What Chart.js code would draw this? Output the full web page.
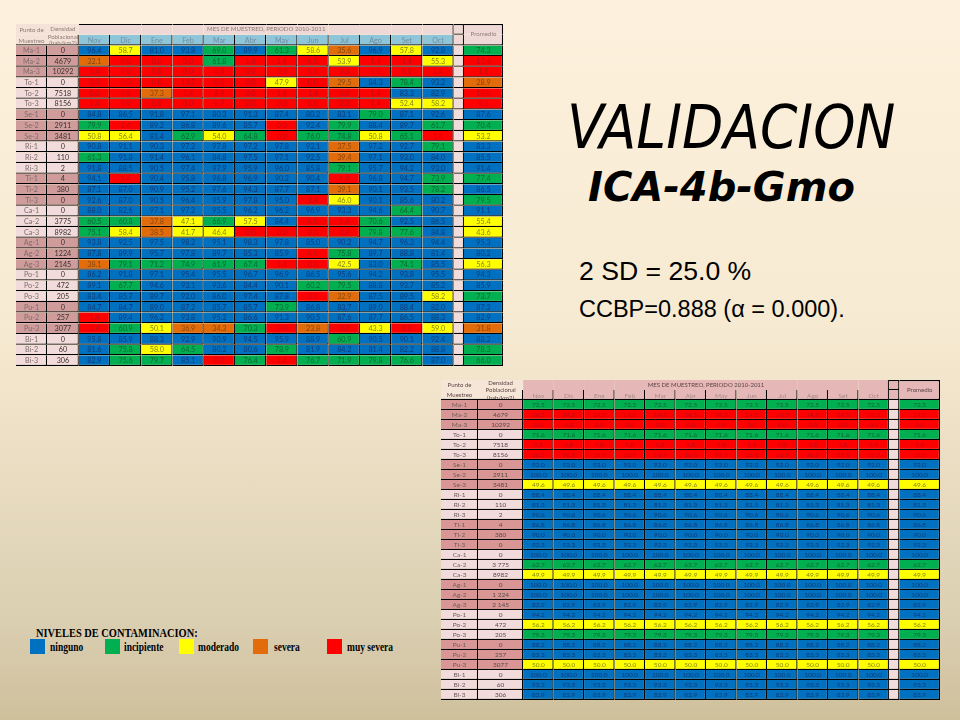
<!DOCTYPE html>
<html lang="es">
<head>
<meta charset="utf-8">
<title>VALIDACION ICA-4b-Gmo</title>
<script src="https://cdn.jsdelivr.net/npm/chart.js@4/dist/chart.umd.min.js"></script>
<style>
  html, body { margin: 0; padding: 0; }
  body {
    width: 960px; height: 720px; overflow: hidden; position: relative;
    background: linear-gradient(#fdf1dd 0%, #f7ead2 45%, #dbcfb2 86%, #cfc09c 100%);
  }
  canvas { position: absolute; filter: blur(0.3px); }
  .txt { position: absolute; white-space: nowrap; color: #000; line-height: 1; transform-origin: left center; }
  #t1 { left: 567px; top: 93px; font: italic 59.6px "DejaVu Sans Condensed", "DejaVu Sans"; font-stretch: condensed; }
  #t2 { left: 588px; top: 164px; font: italic bold 40px "DejaVu Sans"; }
  #t3 { left: 579px; top: 256px; font: 26.6px "Liberation Sans"; }
  #t4 { left: 579px; top: 296px; font: 23.5px "Liberation Sans"; }
  #leyTitulo { left: 36px; top: 625px; font: bold 13px "Liberation Serif"; transform: scaleX(0.8); }
  .sw { position: absolute; top: 639px; width: 15px; height: 15px; }
  .ley { top: 640px; font: bold 12px "Liberation Serif"; transform: scaleX(0.79); }
</style>
</head>
<body>
<canvas id="tabla1"></canvas>
<canvas id="tabla2"></canvas>
<div class="txt" id="t1">VALIDACION</div>
<div class="txt" id="t2">ICA-4b-Gmo</div>
<div class="txt" id="t3">2 SD = 25.0 %</div>
<div class="txt" id="t4">CCBP=0.888 (α = 0.000).</div>
<div class="txt" id="leyTitulo">NIVELES DE CONTAMINACION:</div>
<div id="leyenda"></div>

<script>
// Datos
const puntos = ['Ma-1','Ma-2','Ma-3','To-1','To-2','To-3','Se-1','Se-2','Se-3','Ri-1','Ri-2','Ri-3','Ti-1','Ti-2','Ti-3',
  'Ca-1','Ca-2','Ca-3','Ag-1','Ag-2','Ag-3','Po-1','Po-2','Po-3','Pu-1','Pu-2','Pu-3','Bi-1','Bi-2','Bi-3'];
const densidad1 = ['0','4679','10292','0','7518','8156','0','2911','3481','0','110','2','4','380','0',
  '0','3775','8982','0','1224','2145','0','472','205','0','257','3077','0','60','306'];
const densidad2 = ['0','4679','10292','0','7518','8156','0','2911','3481','0','110','2','4','380','0',
  '0','3 775','8982','0','1 224','2 145','0','472','205','0','257','3077','0','60','306'];
const meses = ['Nov','Dic','Ene','Feb','Mar','Abr','May','Jun','Jul','Ago','Set','Oct'];

const muestreo = [
  [96.4,58.7,81.0,93.8,69.0,89.9,61.3,58.6,35.6,96.9,57.8,92.8],
  [32.1,0.0,0.0,0.0,61.8,1.4,1.4,0.0,53.9,1.4,1.4,55.3],
  [1.4,0.0,0.0,0.0,4.8,0.0,0.0,0.0,0.0,0.0,0.0,1.4],
  [0.0,0.0,0.0,13.7,0.0,0.0,47.9,0.0,29.5,84.3,78.4,93.2],
  [0.0,0.0,37.3,1.4,6.9,0.0,1.4,1.4,0.0,1.4,83.3,82.9],
  [1.4,0.0,0.0,0.0,0.7,0.0,0.0,0.0,0.0,1.4,52.4,58.2],
  [84.8,86.5,91.8,97.1,80.3,91.3,87.4,80.2,83.1,79.0,87.1,92.6],
  [79.9,1.4,89.2,86.8,89.6,85.7,0.0,92.4,79.9,88.4,89.7,61.7],
  [50.8,56.4,81.4,62.9,54.0,64.8,0.0,76.0,74.8,50.8,65.1,1.4],
  [90.8,91.1,90.3,97.2,97.8,97.2,97.8,92.1,37.5,97.2,92.7,79.1],
  [61.3,91.8,91.4,96.1,84.8,97.5,97.1,92.5,39.4,97.1,93.0,84.0],
  [91.8,88.5,90.5,97.4,97.9,95.9,96.0,85.8,79.1,95.7,94.2,93.0],
  [94.1,1.4,90.4,95.8,96.8,96.9,90.2,90.4,1.4,96.8,94.7,73.9],
  [87.1,87.0,90.9,95.2,97.6,94.3,87.7,87.1,39.1,90.1,93.5,78.2],
  [92.6,87.0,90.5,96.4,95.9,97.8,95.0,1.4,46.0,90.1,85.6,80.2],
  [88.0,82.6,97.1,97.2,95.5,96.2,96.2,96.9,93.3,94.6,64.4,90.7],
  [60.5,60.8,37.8,47.1,66.9,57.5,84.4,0.0,1.4,70.6,92.5,86.5],
  [75.1,58.4,38.5,41.7,46.4,0.0,0.0,0.0,0.0,79.8,77.6,84.8],
  [93.8,92.5,97.5,98.2,95.1,98.3,97.8,85.0,90.2,94.7,96.3,94.4],
  [87.8,89.9,95.7,97.8,89.7,85.3,85.9,0.0,75.8,89.7,88.8,81.4],
  [38.1,79.1,71.2,74.9,61.9,67.4,1.4,0.0,42.5,83.0,74.1,85.5],
  [86.2,91.8,97.1,95.4,95.5,96.7,96.9,86.5,95.6,94.2,93.8,95.5],
  [89.1,67.7,94.6,93.1,93.6,84.4,90.1,60.2,79.5,88.8,93.7,85.2],
  [83.4,85.7,89.7,92.0,86.0,97.4,87.8,0.0,32.9,87.5,89.5,58.2],
  [84.7,84.7,89.0,87.2,85.7,85.7,73.9,86.8,83.7,89.0,88.4,82.0],
  [1.4,89.4,96.2,93.8,95.2,86.6,91.3,90.5,87.6,87.7,86.5,88.3],
  [1.4,60.9,50.1,36.9,34.3,70.3,0.0,23.8,0.0,43.3,0.0,59.0],
  [95.8,85.9,88.3,92.9,90.9,94.5,95.9,88.9,60.9,90.5,90.1,92.4],
  [81.6,75.8,58.0,64.5,80.2,80.6,78.9,81.9,84.2,81.4,82.2,88.8],
  [82.9,75.6,79.7,85.1,0.0,76.4,1.4,76.7,71.9,79.8,76.6,87.0]
];
const promedio1 = [74.3,17.4,1.1,28.9,18.0,9.5,87.6,70.4,53.2,83.3,85.5,91.4,77.4,86.5,79.5,91.1,55.4,43.6,95.3,80.2,56.3,94.3,85.9,73.7,87.2,82.9,31.8,88.2,78.3,66.0];
// en la segunda tabla el valor se repite en todos los meses
const promedio2 = [72.5,14.5,0.0,71.6,5.8,16.5,92.0,100.0,49.6,88.4,81.3,90.6,86.8,90.0,92.3,100.0,62.7,49.9,100.0,100.0,82.9,94.2,56.2,79.3,88.2,83.3,50.0,100.0,93.3,83.9];

const niveles = ['ninguno','incipiente','moderado','severa','muy severa'];
const nivelColor = ['#0070c0','#00b050','#ffff00','#e36c0a','#ff0000'];
const nivelTexto = ['#0d3c78','#0b6636','#85851c','#84460f','#b80d18'];
const leyendaX = [30,105,179,253,327];
const leyendaTextoX = [50,124,198,274,347];

function nivel(v) {
  if (v >= 80) return 0;
  if (v >= 60) return 1;
  if (v >= 40) return 2;
  if (v >= 20) return 3;
  return 4;
}

// filas 0 y 1 son la cabecera, columnas: punto, densidad, 12 meses, separador, promedio
function crearTabla(cfg) {
  const canvas = document.getElementById(cfg.id);
  canvas.style.left = cfg.left + 'px';
  canvas.style.top = cfg.top + 'px';
  const etiquetas = ['titulo', 'meses'].concat(puntos);
  const anchos = [cfg.col0, cfg.col1].concat(meses.map(() => cfg.mes), [cfg.sep, cfg.prom]);
  const total = anchos.reduce((a, b) => a + b, 0);
  const g = cfg.linea;

  function valor(fila, col) {
    if (col >= 2 && col < 14) return cfg.valores(fila, col - 2);
    return cfg.promedio[fila];
  }

  function fondo(ctx) {
    const col = ctx.datasetIndex, fila = ctx.dataIndex;
    if (fila < 2) {
      if (col < 2) return cfg.cabLateral;
      if (col >= 14) return cfg.cabPromedio;
      return fila === 0 ? cfg.cabTitulo : cfg.cabMes;
    }
    const f = fila - 2;
    if (col < 2) return Math.floor(f / 3) % 2 === 0 ? cfg.rosa : '#f2dcdb';
    if (col === 14) return '#f2dcdb';
    return nivelColor[nivel(valor(f, col))];
  }

  function borde(ctx) {
    const col = ctx.datasetIndex, fila = ctx.dataIndex;
    if (fila === 0) {
      if (col === 15) return { top: g, right: g, left: 0, bottom: 0 };
      if (col === 14) return { top: g, right: g, left: 0, bottom: g };
      if (col === 13) return { top: cfg.lineaArriba, right: g, left: 0, bottom: 0 };
      if (col >= 2) return { top: cfg.lineaArriba, right: 0, left: 0, bottom: 0 };
      return 0;
    }
    if (fila === 1) {
      if (col >= 2) return { top: 0, right: g, left: 0, bottom: g };
      return { top: 0, right: col === 1 ? g : 0, left: 0, bottom: g };
    }
    return { top: 0, right: g, left: 0, bottom: g };
  }

  const datasets = anchos.map((w) => ({
    data: etiquetas.map(() => w),
    backgroundColor: fondo,
    borderColor: '#000',
    borderWidth: borde,
    borderSkipped: false,
    inflateAmount: 0,
    barPercentage: 1,
    categoryPercentage: 1
  }));

  const textos = {
    id: 'textos',
    afterDatasetsDraw(chart) {
      const c = chart.ctx;
      const { y } = chart.scales;
      c.save();
      c.textAlign = 'center';
      c.textBaseline = 'middle';
      c.font = cfg.fuente + 'px Lato';
      for (let i = 0; i < anchos.length; i++) {
        const meta = chart.getDatasetMeta(i);
        for (let fila = 2; fila < etiquetas.length; fila++) {
          const p = meta.data[fila].getCenterPoint();
          const f = fila - 2;
          let t = '', color = '#000';
          if (i === 0) { t = puntos[f]; color = cfg.textoPunto; }
          else if (i === 1) { t = cfg.densidad[f]; color = cfg.textoDensidad; }
          else if (i !== 14) {
            const v = valor(f, i);
            t = v.toFixed(1);
            color = nivelTexto[nivel(v)];
          }
          if (t) { c.fillStyle = color; c.fillText(t, p.x, p.y); }
        }
        if (i >= 2 && i < 14) {
          const p = meta.data[1].getCenterPoint();
          c.fillStyle = cfg.textoMes;
          c.fillText(meses[i - 2], p.x, p.y + cfg.dyMes);
        }
      }
      // cabecera
      const yCab = y.getPixelForValue(0);
      c.fillStyle = cfg.textoCab;
      c.font = cfg.fuenteCab + 'px Lato';
      const mesIni = chart.getDatasetMeta(2).data[0].base;
      const mesFin = chart.getDatasetMeta(13).data[0].x;
      c.fillText('MES DE MUESTREO, PERIODO 2010-2011', (mesIni + mesFin) / 2, yCab + cfg.dyTitulo);
      const prom = chart.getDatasetMeta(15).data[0];
      c.fillText('Promedio', (prom.base + prom.x) / 2, yCab + cfg.dyPromedio);
      const cx0 = chart.getDatasetMeta(0).data[0].getCenterPoint().x;
      const col1 = chart.getDatasetMeta(1).data[0];
      const cx1 = col1.getCenterPoint().x;
      c.fillText('Punto de', cx0, cfg.yPunto[0]);
      c.fillText('Muestreo', cx0, cfg.yPunto[1]);
      c.fillText('Densidad', cx1, cfg.yDens[0]);
      c.fillText('Poblacional', cx1, cfg.yDens[1]);
      c.beginPath();
      c.rect(col1.base, 0, col1.x - col1.base, y.getPixelForValue(1) + (y.getPixelForValue(2) - y.getPixelForValue(1)) / 2 - 1);
      c.clip();
      c.fillText('(hab/km2)', cx1, cfg.yDens[2]);
      c.restore();
    }
  };

  return new Chart(canvas, {
    type: 'bar',
    data: { labels: etiquetas, datasets: datasets },
    options: {
      indexAxis: 'y',
      responsive: false,
      devicePixelRatio: 1,
      animation: false,
      layout: { padding: 0 },
      events: [],
      plugins: { legend: { display: false }, tooltip: { enabled: false }, title: { display: false } },
      scales: {
        x: { type: 'linear', stacked: true, min: 0, max: total, display: false },
        y: { stacked: true, display: false }
      }
    },
    plugins: [textos]
  });
}

function dimensionar(id, w, h) {
  const c = document.getElementById(id);
  c.width = w; c.height = h;
  c.style.width = w + 'px'; c.style.height = h + 'px';
}

dimensionar('tabla1', 487, 342);
dimensionar('tabla2', 499, 320);

crearTabla({
  id: 'tabla1', left: 16, top: 24,
  col0: 31, col1: 31.7, mes: 31.2, sep: 10.3, prom: 39,
  valores: (f, m) => muestreo[f][m], promedio: promedio1, densidad: densidad1,
  cabLateral: '#f4e2d8', cabTitulo: '#efd9d6', cabMes: '#8fc5d9', cabPromedio: '#efd9d6', rosa: '#cf9c9b',
  textoPunto: '#7d6c6c', textoDensidad: '#3a3030', textoMes: '#6d8fa0', textoCab: '#8d7a76', lineaArriba: 1, linea: 1.2,
  fuente: 7.2, fuenteCab: 6.1, dyMes: 0.5, dyTitulo: 0, dyPromedio: 5, yPunto: [6, 17], yDens: [5, 13, 19.5]
});

crearTabla({
  id: 'tabla2', left: 441, top: 380,
  col0: 37, col1: 45, mes: 30.45, sep: 10.4, prom: 40.6,
  valores: (f) => promedio2[f], promedio: promedio2, densidad: densidad2,
  cabLateral: '#f6e6d8', cabTitulo: '#e5b8b7', cabMes: '#e5b8b7', cabPromedio: '#e5b8b7', rosa: '#d99694',
  textoPunto: '#6e5c5c', textoDensidad: '#5a4a4a', textoMes: '#a88888', textoCab: '#5c4444', lineaArriba: 0, linea: 1.2,
  fuente: 6.5, fuenteCab: 6.0, dyMes: 0.5, dyTitulo: 0, dyPromedio: 5, yPunto: [5, 15], yDens: [3, 10.5, 18]
});

// leyenda de niveles
const leyenda = document.getElementById('leyenda');
niveles.forEach((n, i) => {
  const sw = document.createElement('div');
  sw.className = 'sw';
  sw.style.left = leyendaX[i] + 'px';
  sw.style.background = nivelColor[i];
  leyenda.appendChild(sw);
  const t = document.createElement('div');
  t.className = 'txt ley';
  t.style.left = leyendaTextoX[i] + 'px';
  t.textContent = n;
  leyenda.appendChild(t);
});
</script>
</body>
</html>
